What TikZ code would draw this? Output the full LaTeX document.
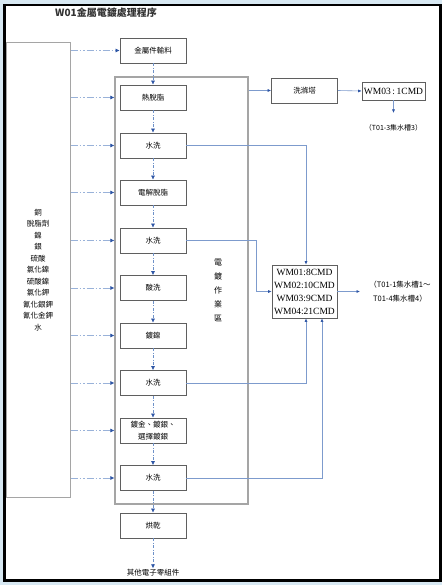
\documentclass[tikz,border=0pt]{standalone}
\usepackage{fontspec}
\setmainfont{Liberation Serif}
\newfontfamily\cjk{Noto Sans CJK TC}
\usetikzlibrary{arrows.meta,calc}
\definecolor{bgblue}{RGB}{215,232,242}
\definecolor{boxgray}{RGB}{95,95,95}
\definecolor{areagray}{RGB}{165,165,165}
\definecolor{flowblue}{RGB}{110,145,200}
\definecolor{linkblue}{RGB}{125,155,205}
\definecolor{tipblue}{RGB}{45,85,165}
\begin{document}
\begin{tikzpicture}[x=1pt,y=-1pt,
  stepbox/.style={draw=boxgray,line width=0.7pt,minimum width=66pt,minimum height=25pt,inner sep=1pt,
    font=\cjk\fontsize{7.5}{10}\selectfont,align=center,fill=white},
  wmbox/.style={draw=boxgray,line width=0.7pt,inner sep=1pt,align=center,fill=white},
  flow/.style={draw=flowblue,line width=0.6pt,dash pattern=on 3pt off 1.5pt on 1pt off 1.5pt,
    -{Latex[length=4pt,width=4pt,color=tipblue]}},
  feed/.style={draw=flowblue!70,line width=0.6pt,dash pattern=on 7pt off 2pt on 1.5pt off 2pt on 1.5pt off 2pt,
    -{Latex[length=4pt,width=4pt,color=tipblue]}},
  link/.style={draw=linkblue,line width=0.6pt,-{Latex[length=3.5pt,width=3pt,color=tipblue]}},
  smalltxt/.style={font=\cjk\fontsize{7.5}{14}\selectfont,align=center,inner sep=1pt}]
\useasboundingbox (0,0) rectangle (442,585);
\fill[bgblue] (0,0) rectangle (442,585);
\fill[white] (4.5,5) rectangle (440.5,580.5);
\draw[line width=2.5pt] (4.5,5) rectangle (440.5,580.5);

% title
\node[font=\cjk\bfseries\fontsize{10}{12}\selectfont,text=black!80] (title) at (106,13) {W01金屬電鍍處理程序};

% chemicals
\node[draw=areagray,line width=1pt,minimum width=64pt,minimum height=454pt,inner sep=0pt,
  font=\cjk\fontsize{7.5}{11.5}\selectfont,align=center] (chem) at (38,270)
  {銅\\脫脂劑\\鎳\\銀\\硫酸\\氯化鎳\\硫酸鎳\\氯化鉀\\氰化銀鉀\\氰化金鉀\\水};

% plating area
\node[draw=areagray,line width=1.2pt,minimum width=133pt,minimum height=427pt,inner sep=0pt] (area) at (181.5,290.5) {};
\node[font=\cjk\fontsize{8}{14}\selectfont,align=center,inner sep=0pt] (areatxt) at (218,290) {電\\鍍\\作\\業\\區};

% process boxes
\node[stepbox] (b1) at (153,50.5) {金屬件輸料};
\node[stepbox] (b2) at (153,97.5) {熱脫脂};
\node[stepbox] (b3) at (153,145.5) {水洗};
\node[stepbox] (b4) at (153,192.5) {電解脫脂};
\node[stepbox] (b5) at (153,240.5) {水洗};
\node[stepbox] (b6) at (153,288) {酸洗};
\node[stepbox] (b7) at (153,335.5) {鍍鎳};
\node[stepbox] (b8) at (153,383) {水洗};
\node[stepbox,font=\cjk\fontsize{7.5}{12}\selectfont] (b9) at (153,430.5) {鍍金、鍍銀、\\選擇鍍銀};
\node[stepbox] (b10) at (153,478) {水洗};
\node[stepbox] (b11) at (153,525.5) {烘乾};
\node[smalltxt] (out) at (153,573) {其他電子零組件};

% vertical flow
\draw[flow] (b1) -- (b2);
\draw[flow] (b2) -- (b3);
\draw[flow] (b3) -- (b4);
\draw[flow] (b4) -- (b5);
\draw[flow] (b5) -- (b6);
\draw[flow] (b6) -- (b7);
\draw[flow] (b7) -- (b8);
\draw[flow] (b8) -- (b9);
\draw[flow] (b9) -- (b10);
\draw[flow] (b10) -- (b11);
\draw[flow] (b11) -- (out);

% chemical feeds
\draw[feed] (chem.east |- b1) -- (b1.west);
\foreach \b in {b2,b3,b4,b5,b6,b7,b8,b9,b10}{
  \draw[feed] (chem.east |- \b) -- (area.west |- \b);
}

% scrubber
\node[stepbox] (scrub) at (304.5,90.5) {洗滌塔};
\node[wmbox,minimum width=63pt,minimum height=18pt,font=\fontsize{9.5}{11}\selectfont] (wm3) at (393.5,91) {WM03\,:\,1CMD};
\coordinate (t3end) at (393.5,113);
\node[smalltxt,font=\cjk\fontsize{7}{9}\selectfont] (t3) at (393.5,128) {（T01-3集水槽3）};
\draw[link] (area.east |- scrub) -- (scrub.west);
\draw[link] (scrub.east) -- (wm3.west);
\draw[link] (wm3.south) -- (t3end);

% wastewater box
\node[wmbox,minimum width=65pt,minimum height=53pt,font=\fontsize{9.5}{13}\selectfont] (wm) at (304.5,291.5)
  {WM01:8CMD\\WM02:10CMD\\WM03:9CMD\\WM04:21CMD};
\node[smalltxt,font=\cjk\fontsize{7.5}{14}\selectfont] (t14) at (400,292) {（T01-1集水槽1～\\T01-4集水槽4）};
\coordinate (wmend) at (360,291.5);
\draw[link] (wm.east) -- (wmend);

\draw[link] (b3.east) -| ([xshift=1.5pt]wm.north);
\draw[link] (b5.east) -| ($(wm.west)+(-15,0)$) -- (wm.west);
\draw[link] (b8.east) -| ([xshift=1.5pt]wm.south);
\draw[link] (b10.east) -| ([xshift=17.5pt]wm.south);
\end{tikzpicture}
\end{document}
